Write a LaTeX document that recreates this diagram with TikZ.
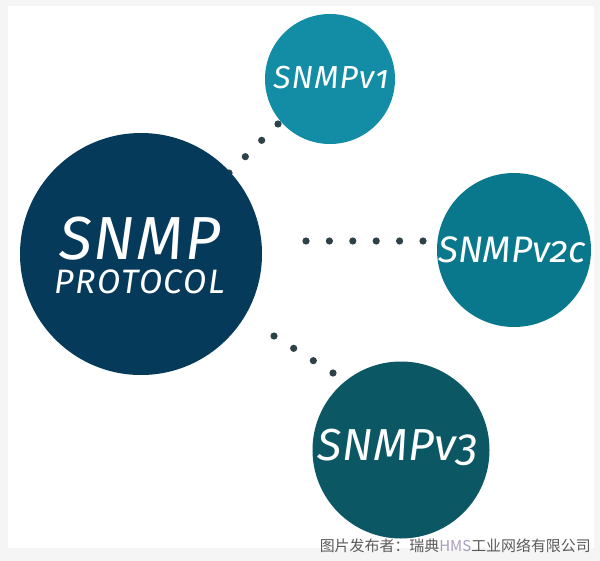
\documentclass[tikz,border=0pt]{standalone}
\usepackage{fontspec}
\usetikzlibrary{calc}
\setmainfont{Fira Sans}[Numbers=OldStyle]
\newfontfamily\cjk{Noto Sans CJK SC}
\definecolor{bgc}{HTML}{F5F5F5}
\definecolor{mainc}{HTML}{063A5B}
\definecolor{vonec}{HTML}{138CA6}
\definecolor{vtwoc}{HTML}{0A788C}
\definecolor{vthreec}{HTML}{0B5864}
\definecolor{dotc}{HTML}{2D4148}
\definecolor{markc}{HTML}{5A5A5A}
\definecolor{hmsc}{HTML}{A89CC0}
\begin{document}
\begin{tikzpicture}[x=1bp,y=-1bp,
  bubble/.style={circle,inner sep=0pt,draw=none},
  lbl/.style={text=white,inner sep=0pt,anchor=base,font=\itshape},
  dotmark/.style={fill=dotc}]
\useasboundingbox (0,0) rectangle (600,561);
\fill[bgc] (0,0) rectangle (600,561);
\fill[white] (8,6) rectangle (594,548);
% dot connector end points
\coordinate (d1s) at (229,173);
\coordinate (d1e) at (278,124);
\coordinate (d2s) at (306,241);
\coordinate (d2e) at (423,241);
\coordinate (d3s) at (274,336);
\coordinate (d3e) at (333,373);
\foreach \t in {0,1,2,3} {\fill[dotmark] ($(d1s)!\t/3!(d1e)$) circle (3.6);}
\foreach \t in {0,1,2,3,4,5} {\fill[dotmark] ($(d2s)!\t/5!(d2e)$) circle (3.6);}
\foreach \t in {0,1,2,3} {\fill[dotmark] ($(d3s)!\t/3!(d3e)$) circle (3.6);}
% bubbles
\node[bubble,fill=mainc,minimum size=242bp] (main) at (141,254) {};
\node[bubble,fill=vonec,minimum size=130bp] (v1) at (330,79) {};
\node[bubble,fill=vtwoc,minimum size=154bp] (v2c) at (514,250) {};
\node[bubble,fill=vthreec,minimum size=177bp] (v3) at (401,450) {};
% labels
\node[lbl,anchor=center,align=center] (tmain) at (140,255.5)
  {\fontsize{61}{36}\selectfont\addfontfeature{LetterSpace=3}SNMP\\[9bp]
   \fontsize{34}{36}\selectfont\addfontfeature{LetterSpace=5}PROTOCOL};
\node[lbl,font=\itshape\fontsize{32}{32}\selectfont\addfontfeature{LetterSpace=3}] (tv1) at (331,89) {SNMPv1};
\node[lbl,font=\itshape\fontsize{37}{37}\selectfont] (tv2c) at (512,262) {SNMPv2c};
\node[lbl,font=\itshape\fontsize{45}{45}\selectfont\addfontfeature{LetterSpace=1}] (tv3) at (398,460) {SNMPv3};
% watermark
\node[anchor=base east,inner sep=0pt,text=markc,font=\cjk\fontsize{15}{15}\selectfont] (mark) at (591,551) {图片发布者：瑞典\textcolor{hmsc}{HMS}工业网络有限公司};
\end{tikzpicture}
\end{document}
